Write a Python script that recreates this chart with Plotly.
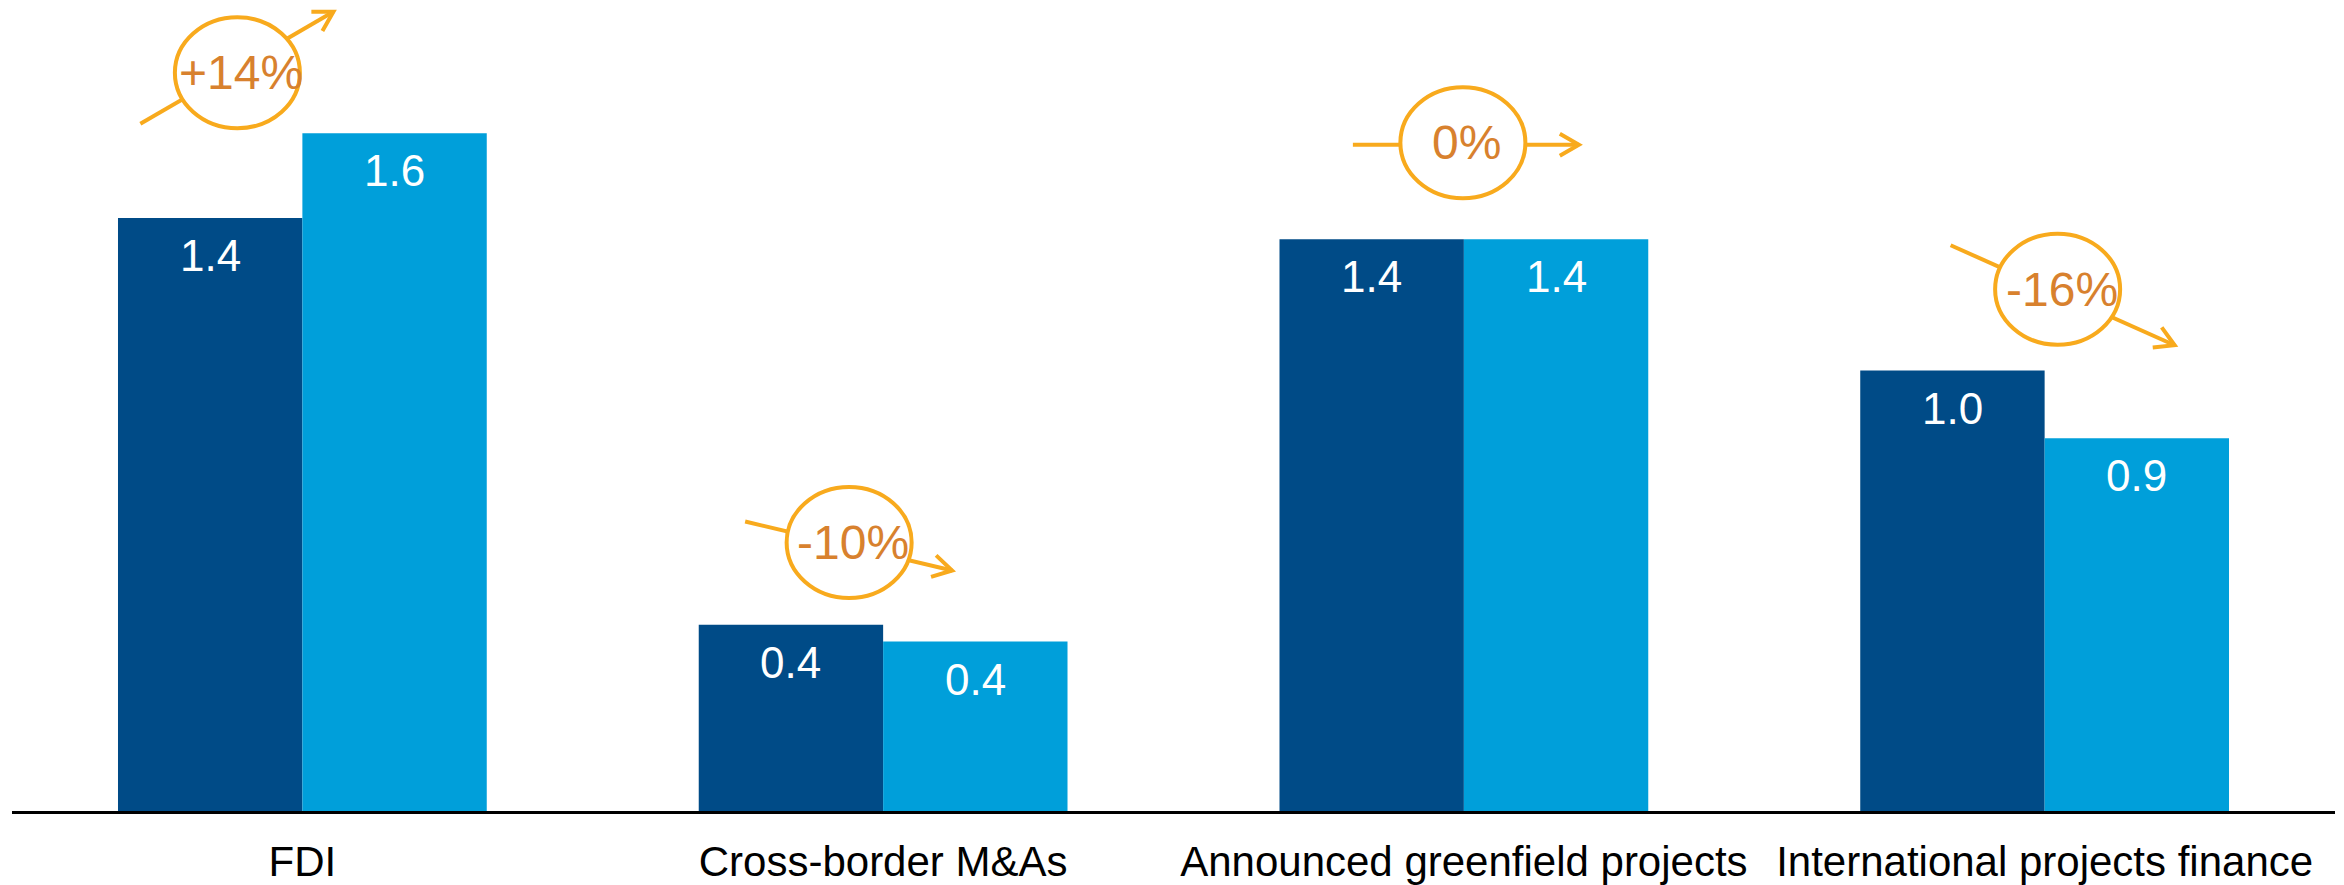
'''
    Grouped bar chart of two periods with circled percentage callouts.
'''
import math
import plotly.graph_objects as go

# data
CATEGORIES = ['FDI', 'Cross-border M&As', 'Announced greenfield projects',
              'International projects finance']
PREVIOUS = [1.40, 0.44, 1.35, 1.04]
LATEST = [1.60, 0.40, 1.35, 0.88]
CHANGE_LABELS = ['+14%', '-10%', '0%', '-16%']

# page / layout (the page body adds an 8px margin round the figure)
W, H = 2336, 877
MARGIN = dict(l=4, r=9, t=0, b=74)
Y_MAX = 1.896
BAR_GAP = 0.365
FONT = 'Arial, Liberation Sans, sans-serif'
DARK = '#004B87'
LIGHT = '#009FDA'
RING = '#F8AA1D'
CHANGE_COLOR = '#D8812E'

# callout placement: ring centre (px offset from category centre, value units),
# arrow tail / head as screen px offsets from the ring centre
CALLOUT_DX = [-65, -34, -1, 13]
CALLOUT_Y = [1.743, 0.634, 1.578, 1.232]
ARROW_TAIL = [(-97, 51), (-104, -21), (-110, 2), (-107, -44)]
ARROW_HEAD = [(96, -61), (103, 28), (116, 2), (117, 56)]
RING_RX, RING_RY = 62.5, 55.5
RING_WIDTH = 4
HEAD_LEN, HEAD_ANGLE = 22, 30

px_x = (W - MARGIN['l'] - MARGIN['r']) / 4.0
px_y = (H - MARGIN['t'] - MARGIN['b']) / Y_MAX


def to_data(x, y, dx, dy):
    # screen pixel offset (y down) -> data coordinates
    return x + dx / px_x, y - dy / px_y


def callout_shapes(i):
    cx = i + CALLOUT_DX[i] / px_x
    cy = CALLOUT_Y[i]
    line = dict(color=RING, width=RING_WIDTH)
    tx, ty = to_data(cx, cy, *ARROW_TAIL[i])
    hx, hy = to_data(cx, cy, *ARROW_HEAD[i])
    shapes = [dict(type='line', xref='x', yref='y', x0=tx, y0=ty, x1=hx, y1=hy,
                   line=line, layer='above')]
    shapes.append(dict(type='circle', xref='x', yref='y',
                       x0=cx - RING_RX / px_x, x1=cx + RING_RX / px_x,
                       y0=cy - RING_RY / px_y, y1=cy + RING_RY / px_y,
                       fillcolor='white', line=line, layer='above'))
    # open chevron at the head
    ddx = ARROW_HEAD[i][0] - ARROW_TAIL[i][0]
    ddy = ARROW_HEAD[i][1] - ARROW_TAIL[i][1]
    back = math.atan2(-ddy, -ddx)
    pts = []
    for sgn in (1, -1):
        a = back + sgn * math.radians(HEAD_ANGLE)
        pts.append(to_data(cx, cy, ARROW_HEAD[i][0] + HEAD_LEN * math.cos(a),
                           ARROW_HEAD[i][1] + HEAD_LEN * math.sin(a)))
    path = 'M {} {} L {} {} L {} {}'.format(pts[0][0], pts[0][1], hx, hy,
                                            pts[1][0], pts[1][1])
    shapes.append(dict(type='path', xref='x', yref='y', path=path,
                       line=line, layer='above'))
    return shapes, cx, cy


x_idx = list(range(len(CATEGORIES)))
fig = go.Figure()
fig.add_trace(go.Bar(x=x_idx, y=PREVIOUS, name='Previous',
                     marker=dict(color=DARK, line=dict(width=0))))
fig.add_trace(go.Bar(x=x_idx, y=LATEST, name='Latest',
                     marker=dict(color=LIGHT, line=dict(width=0))))

half = (1 - BAR_GAP) / 4
annotations = []
for i in x_idx:
    for off, v in ((-half, PREVIOUS[i]), (half, LATEST[i])):
        annotations.append(dict(x=i + off, y=v, xref='x', yref='y',
                                text='{:.1f}'.format(v), showarrow=False,
                                yanchor='middle', yshift=-37.5,
                                font=dict(family=FONT, size=44, color='white')))

shapes = []
for i in x_idx:
    s, cx, cy = callout_shapes(i)
    shapes += s
    annotations.append(dict(x=cx, y=cy, xref='x', yref='y', text=CHANGE_LABELS[i],
                            showarrow=False, xshift=4, yshift=0,
                            font=dict(family=FONT, size=48, color=CHANGE_COLOR)))

fig.update_layout(
    width=W, height=H, margin=MARGIN,
    barmode='group', bargap=BAR_GAP, bargroupgap=0,
    showlegend=False,
    paper_bgcolor='white', plot_bgcolor='white',
    xaxis=dict(range=[-0.5, 3.5], tickmode='array', tickvals=x_idx,
               ticktext=CATEGORIES, ticks='', showgrid=False, zeroline=False,
               showline=True, linecolor='black', linewidth=3,
               ticklabelstandoff=12,
               tickfont=dict(family=FONT, size=42, color='black')),
    yaxis=dict(range=[0, Y_MAX], visible=False, showgrid=False, zeroline=False),
    shapes=shapes,
    annotations=annotations,
    dragmode=False,
)

fig.write_html('out.html')
